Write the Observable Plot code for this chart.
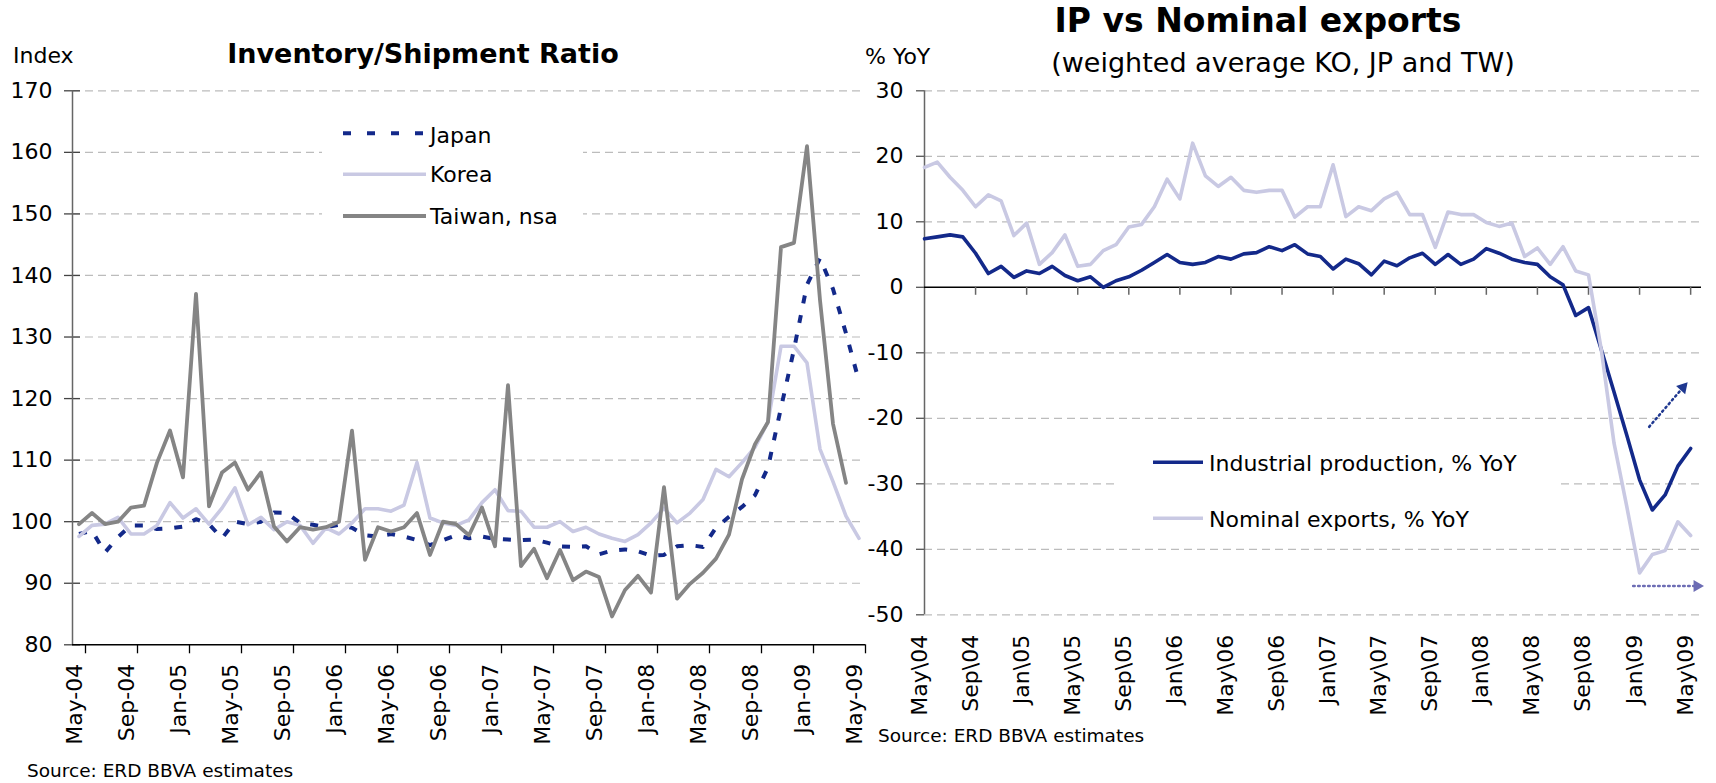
<!DOCTYPE html>
<html><head><meta charset="utf-8">
<script src="https://cdn.jsdelivr.net/npm/d3@7"></script>
<script src="https://cdn.jsdelivr.net/npm/@observablehq/plot@0.6"></script>
<style>
html,body{margin:0;padding:0;background:#fff;}
#wrap{position:relative;width:1716px;height:783px;overflow:hidden;font-family:"DejaVu Sans",sans-serif;background:#fff;}
#wrap > svg{position:absolute;}
</style></head><body><div id="wrap"></div>
<script>
// ---------- data ----------
// monthly categories May-2004 .. May-2009 (index 0..60)
const months = d3.utcMonths(new Date(Date.UTC(2004,4,1)), new Date(Date.UTC(2009,5,1)));
const tickIdx = [0,4,8,12,16,20,24,28,32,36,40,44,48,52,56,60];
const leftTickLabels = ["May-04","Sep-04","Jan-05","May-05","Sep-05","Jan-06","May-06","Sep-06","Jan-07","May-07","Sep-07","Jan-08","May-08","Sep-08","Jan-09","May-09"];
const rightTickLabels = ["May\\04","Sep\\04","Jan\\05","May\\05","Sep\\05","Jan\\06","May\\06","Sep\\06","Jan\\07","May\\07","Sep\\07","Jan\\08","May\\08","Sep\\08","Jan\\09","May\\09"];
const leftYTicks = [80,90,100,110,120,130,140,150,160,170];
const rightYTicks = [-50,-40,-30,-20,-10,0,10,20,30];

// Inventory/Shipment ratio (index)
const japan = [98.0,98.5,95.0,97.5,99.4,99.4,98.8,98.9,99.2,100.4,99.6,97.3,100.0,99.6,100.0,101.5,101.4,99.8,99.5,99.1,99.5,99.0,97.8,97.6,98.0,97.6,97.0,96.2,97.0,97.8,97.3,97.6,97.2,97.1,97.0,97.1,96.6,96.0,95.9,96.0,94.7,95.3,95.5,95.2,94.5,94.6,96.0,96.2,95.9,99.0,100.8,102.4,104.3,108.8,118.5,128.0,138.5,142.8,137.8,130.6,122.8];
const korea = [97.6,99.4,99.6,100.7,98.0,98.0,99.4,103.1,100.6,102.1,99.6,102.2,105.5,99.5,100.7,98.7,100.0,99.4,96.5,99.0,98.0,99.8,102.1,102.1,101.7,102.7,109.6,100.6,99.8,99.4,100.3,103.1,105.2,101.8,101.7,99.1,99.1,100.0,98.4,99.1,98.0,97.3,96.8,97.9,99.8,102.2,99.8,101.4,103.6,108.5,107.3,109.6,112.1,116.2,128.5,128.5,125.8,111.8,106.5,100.9,97.3];
const taiwan = [99.6,101.4,99.6,100.0,102.3,102.6,109.6,114.8,107.2,137.0,102.5,108.0,109.6,105.2,108.0,99.2,96.8,99.1,98.7,99.1,100.0,114.8,93.8,99.1,98.4,99.1,101.4,94.6,100.0,99.6,97.8,102.3,96.0,122.2,92.8,95.6,90.8,95.4,90.5,91.9,91.0,84.6,88.9,91.2,88.5,105.6,87.5,89.9,91.7,94.0,97.9,106.9,112.6,116.2,144.6,145.3,161.0,136.0,115.9,106.3];

// IP vs Nominal exports (% YoY)
const industrialProduction = [7.4,7.7,8.0,7.7,5.2,2.1,3.2,1.5,2.5,2.1,3.2,1.8,1.0,1.6,0.0,1.0,1.6,2.6,3.8,5.0,3.8,3.5,3.8,4.7,4.3,5.1,5.3,6.2,5.6,6.5,5.1,4.7,2.8,4.3,3.6,1.9,4.0,3.3,4.5,5.2,3.5,5.0,3.5,4.3,5.9,5.2,4.3,3.8,3.5,1.6,0.4,-4.3,-3.1,-9.5,-16.0,-22.6,-29.4,-34.0,-31.7,-27.3,-24.6];
const nominalExports = [18.3,19.1,16.8,14.8,12.3,14.1,13.2,7.9,9.8,3.5,5.3,8.0,3.2,3.5,5.6,6.5,9.2,9.6,12.3,16.5,13.5,22.0,17.0,15.4,16.8,14.8,14.5,14.8,14.8,10.7,12.3,12.3,18.7,10.8,12.3,11.7,13.5,14.5,11.1,11.1,6.1,11.5,11.1,11.1,9.9,9.3,9.8,4.7,6.0,3.5,6.2,2.5,1.9,-9.5,-23.8,-33.5,-43.6,-40.8,-40.2,-35.8,-37.9];

// annotation arrows (month index, % YoY)
const arrowNotes = [
  {x1: 56.75, y1: -21.3, x2: 59.4, y2: -15.3, color: "#1f3890", angle: 41.7},
  {x1: 55.5, y1: -45.6, x2: 60.5, y2: -45.6, color: "#6c6cb4", angle: 90}
];

// ---------- styles ----------
const NAVY = "#13298a", LAV = "#c9c9e3", GRAY = "#858585", GRID = "#bcbcbc";
const rows = (arr, name) => arr.map((v, i) => ({series: name, i, date: months[i], v}));
const baseStyle = {fontFamily: "DejaVu Sans, sans-serif", fontSize: "22px", background: "transparent", color: "#000", overflow: "visible"};

// ---------- left chart ----------
const leftPxPerMonth = 13, leftPxPerUnit = 6.16;
const left = Plot.plot({
  width: 880, height: 783,
  marginLeft: 72, marginRight: 15, marginTop: 90.3, marginBottom: 138.7,
  x: {domain: [-0.5, 60.5], axis: null},
  y: {domain: [80, 170], ticks: leftYTicks, tickSize: 0, tickPadding: 20, tickFormat: d => String(d), label: null},
  style: baseStyle,
  marks: [
    Plot.ruleY(leftYTicks.filter(d => d > 80), {stroke: GRID, strokeDasharray: "8,5", strokeWidth: 1.2}),
    Plot.ruleY(leftYTicks, {x1: -0.5 - 8 / leftPxPerMonth, x2: -0.5 + 8 / leftPxPerMonth, stroke: "#444", strokeWidth: 1.3}),
    Plot.ruleX([-0.5], {stroke: "#666", strokeWidth: 1.5}),
    Plot.ruleY([80], {stroke: "#000", strokeWidth: 1.5}),
    Plot.ruleX(tickIdx, {x: d => d + 0.5, y1: 80, y2: 80 - 9 / leftPxPerUnit, stroke: "#000", strokeWidth: 1.3}),
    Plot.line(rows(japan, "Japan"), {x: "i", y: "v", stroke: NAVY, strokeWidth: 4, strokeDasharray: "8,12", strokeLinecap: "butt"}),
    Plot.line(rows(korea, "Korea"), {x: "i", y: "v", stroke: LAV, strokeWidth: 3.6, strokeLinejoin: "round"}),
    Plot.line(rows(taiwan, "Taiwan, nsa"), {x: "i", y: "v", stroke: GRAY, strokeWidth: 3.8, strokeLinejoin: "round"}),
    Plot.text(leftTickLabels, {x: (d, i) => tickIdx[i] + 0.5, frameAnchor: "bottom", rotate: -90, textAnchor: "end", dy: 19, dx: -4, fontSize: 22, fill: "#000"})
  ]
});
left.style.left = "0px"; left.style.top = "0px";

// ---------- right chart ----------
const rightPxPerMonth = 766 / 60, rightPxPerUnit = 6.55;
const right = Plot.plot({
  width: 856, height: 783,
  marginLeft: 64, marginRight: 15, marginTop: 90.3, marginBottom: 168.7,
  x: {domain: [0, 60.85], axis: null},
  y: {domain: [-50, 30], ticks: rightYTicks, tickSize: 0, tickPadding: 21, tickFormat: d => String(d), label: null},
  style: baseStyle,
  marks: [
    Plot.ruleY(rightYTicks.filter(d => d !== 0), {stroke: GRID, strokeDasharray: "8,5", strokeWidth: 1.2}),
    Plot.ruleY(rightYTicks, {x1: -8 / rightPxPerMonth, x2: 0, stroke: "#555", strokeWidth: 1.3}),
    Plot.ruleX([0], {stroke: "#666", strokeWidth: 1.5}),
    Plot.ruleY([0], {stroke: "#000", strokeWidth: 1.5}),
    Plot.ruleX(tickIdx.slice(1), {y1: 0, y2: -8 / rightPxPerUnit, stroke: "#666", strokeWidth: 1.5}),
    Plot.line(rows(industrialProduction, "Industrial production, % YoY"), {x: "i", y: "v", stroke: NAVY, strokeWidth: 3.6, strokeLinejoin: "round"}),
    Plot.line(rows(nominalExports, "Nominal exports, % YoY"), {x: "i", y: "v", stroke: LAV, strokeWidth: 3.6, strokeLinejoin: "round"}),
    Plot.link(arrowNotes, {x1: "x1", y1: "y1", x2: "x2", y2: "y2", stroke: "color", strokeWidth: 2.5, strokeDasharray: "1.5,3.5", strokeLinecap: "round"}),
    Plot.dot(arrowNotes, {x: "x2", y: "y2", symbol: "triangle", r: 4.5, fill: "color", stroke: null, rotate: "angle"}),
    Plot.text(rightTickLabels, {x: (d, i) => tickIdx[i], frameAnchor: "bottom", rotate: -90, textAnchor: "end", dy: 20, dx: 2, fontSize: 22, fill: "#000"})
  ]
});
right.style.left = "860px"; right.style.top = "0px";

const wrap = document.getElementById("wrap");
wrap.appendChild(left);
wrap.appendChild(right);

// ---------- titles, legends, sources (overlay) ----------
const ov = d3.select(wrap).append("svg")
  .attr("width", 1716).attr("height", 783)
  .style("left", "0px").style("top", "0px")
  .attr("font-family", "DejaVu Sans, sans-serif");

function txt(x, y, s, size, opts = {}) {
  return ov.append("text").attr("x", x).attr("y", y).attr("font-size", size)
    .attr("text-anchor", opts.anchor || "start").attr("font-weight", opts.bold ? "bold" : "normal")
    .attr("fill", "#000").text(s);
}

txt(13, 63, "Index", 22);
txt(423, 63, "Inventory/Shipment Ratio", 27, {anchor: "middle", bold: true});
txt(865, 64, "% YoY", 22);
txt(1258, 32, "IP vs Nominal exports", 33, {anchor: "middle", bold: true});
txt(1283, 72, "(weighted average KO, JP and TW)", 27, {anchor: "middle"});
txt(27, 777, "Source:  ERD BBVA estimates", 18.5);
txt(878, 742, "Source:  ERD BBVA estimates", 18.5);

// left legend
const leftLegend = [
  {label: "Japan", color: NAVY, dash: "8,16", w: 4, y: 133.3, base: 143},
  {label: "Korea", color: LAV, dash: null, w: 3.6, y: 174.3, base: 181.7},
  {label: "Taiwan, nsa", color: GRAY, dash: null, w: 3.8, y: 216, base: 224}
];
ov.append("rect").attr("x", 322).attr("y", 108).attr("width", 261).attr("height", 130).attr("fill", "#fff");
leftLegend.forEach(d => {
  ov.append("line").attr("x1", 343).attr("x2", 426).attr("y1", d.y).attr("y2", d.y)
    .attr("stroke", d.color).attr("stroke-width", d.w).attr("stroke-dasharray", d.dash);
  txt(430, d.base, d.label, 22);
});

// right legend
const rightLegend = [
  {label: "Industrial production, % YoY", color: NAVY, y: 462.3, base: 471},
  {label: "Nominal exports, % YoY", color: LAV, y: 518.3, base: 527}
];
ov.append("rect").attr("x", 1117).attr("y", 430).attr("width", 440).attr("height", 110).attr("fill", "#fff");
rightLegend.forEach(d => {
  ov.append("line").attr("x1", 1153).attr("x2", 1203).attr("y1", d.y).attr("y2", d.y)
    .attr("stroke", d.color).attr("stroke-width", 3.6);
  txt(1209, d.base, d.label, 22);
});
</script>
</body></html>
